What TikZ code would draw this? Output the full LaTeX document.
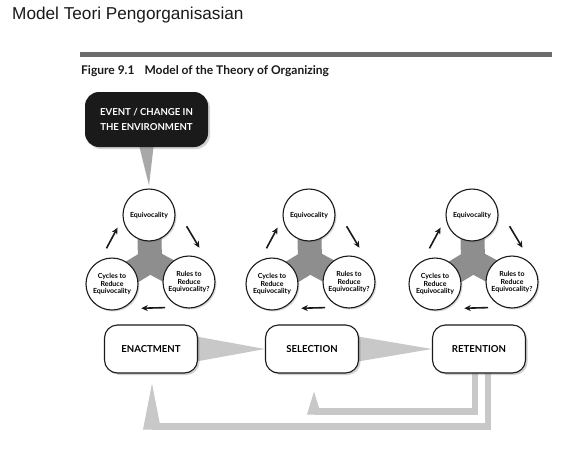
\documentclass[tikz,border=0pt]{standalone}
\usepackage{fontspec}
\setmainfont{Liberation Sans}
\newfontfamily\figfont{Lato}
\usetikzlibrary{arrows.meta,calc,shadows,backgrounds}
\definecolor{tmink}{HTML}{1A1A1A}
\definecolor{tmrule}{HTML}{6B6B6B}
\definecolor{tmhub}{HTML}{8E8E8E}
\definecolor{tmflow}{HTML}{C8C8C8}
\definecolor{tmtip}{HTML}{A8A8A8}

\begin{document}
\begin{tikzpicture}[x=1pt,y=-1pt,
    circ/.style={circle,draw=tmink,line width=1.1pt,fill=white,minimum size=52pt,inner sep=0pt,align=center,
      font=\figfont\bfseries\fontsize{7}{7.9}\selectfont,
      drop shadow={opacity=0.3,shadow xshift=1.5pt,shadow yshift=-1.5pt}},
    stage/.style={rectangle,rounded corners=13pt,draw=tmink,line width=1.1pt,fill=white,
      minimum width=93pt,minimum height=48pt,font=\figfont\bfseries\fontsize{9.6}{11}\selectfont,
      drop shadow={opacity=0.35,shadow xshift=2pt,shadow yshift=-2pt}},
    turn/.style={-{Stealth[length=6.5pt,width=6pt]},line width=1.6pt,tmink},
    flow/.style={draw=tmflow,line width=6.5pt}]
  \begin{scope}[on background layer]
    \fill[white] (0,0) rectangle (573,450);
  \end{scope}
  \useasboundingbox (0,0) rectangle (573,450);

  \node[anchor=base west,inner sep=0pt,font=\fontsize{17.2}{20}\selectfont,text=tmink] (title) at (12,19) {Model Teori Pengorganisasian};
  \draw[tmrule,line width=4.5pt] (80,54.5) -- (552,54.5);
  \node[anchor=base west,inner sep=0pt,font=\figfont\bfseries\fontsize{12}{14}\selectfont,text=tmink] (caption) at (81,74)
    {Figure 9.1\hspace{10pt}Model of the Theory of Organizing};

  \node[rectangle,rounded corners=14pt,fill=tmink,minimum width=123pt,minimum height=55pt,align=center,
    text=white,font=\figfont\bfseries\fontsize{9.6}{15.5}\selectfont,
    drop shadow={opacity=0.35,shadow xshift=2pt,shadow yshift=-2pt}] (event) at (146.5,119.5)
    {EVENT / CHANGE IN\\THE ENVIRONMENT};

  % three loops of equivocality
  \foreach \gx/\n in {149/1,309/2,472/3}{
    \coordinate (hub\n) at (\gx+1,261);
    \node[circ] (equ\n) at (\gx,215) {Equivocality};
    \node[circ] (cyc\n) at (\gx-37,284) {Cycles to\\Reduce\\Equivocality};
    \node[circ] (rul\n) at (\gx+40,282) {Rules to\\Reduce\\Equivocality?};
    \begin{scope}[on background layer]
      \draw[tmhub,line width=24pt] (hub\n) -- (equ\n.center);
      \draw[tmhub,line width=24pt] (hub\n) -- (cyc\n.center);
      \draw[tmhub,line width=24pt] (hub\n) -- (rul\n.center);
    \end{scope}
    \draw[turn] ([shift={(-18.5,-11.5)}]$(cyc\n)!0.35!(equ\n)$) -- ([shift={(-18.5,-11.5)}]$(cyc\n)!0.65!(equ\n)$);
    \draw[turn] ([shift={(24,-11.5)}]$(equ\n)!0.34!(rul\n)$) -- ([shift={(24,-11.5)}]$(equ\n)!0.66!(rul\n)$);
    \draw[turn] ([shift={(0,25)}]$(rul\n)!0.31!(cyc\n)$) -- ([shift={(0,25)}]$(rul\n)!0.62!(cyc\n)$);
  }

  \node[stage] (enact) at (151,349) {ENACTMENT};
  \node[stage] (select) at (312,349) {SELECTION};
  \node[stage] (retain) at (479,349) {RETENTION};

  \begin{scope}[on background layer]
    \fill[tmtip] ([xshift=-7pt]event.south) -- ([xshift=7pt]event.south) -- ([yshift=3pt]equ1.north) -- cycle;
    \fill[tmflow] ([xshift=-10pt,yshift=14pt]enact.east) -- (select.west) -- ([xshift=-10pt,yshift=-14pt]enact.east) -- cycle;
    \fill[tmflow] ([xshift=-10pt,yshift=14pt]select.east) -- (retain.west) -- ([xshift=-10pt,yshift=-14pt]select.east) -- cycle;
    % feedback from retention
    \draw[flow] ([xshift=-4pt]retain.center) |- ([shift={(2,38)}]select.south);
    \fill[tmflow] ([shift={(-5,41)}]select.south) -- ([shift={(9,41)}]select.south) -- ([shift={(2,18)}]select.south) -- cycle;
    \draw[flow] ([xshift=9pt]retain.center) |- ([shift={(1,53)}]enact.south);
    \fill[tmflow] ([shift={(-8,56)}]enact.south) -- ([shift={(10,56)}]enact.south) -- ([shift={(1,10)}]enact.south) -- cycle;
  \end{scope}
\end{tikzpicture}
\end{document}
